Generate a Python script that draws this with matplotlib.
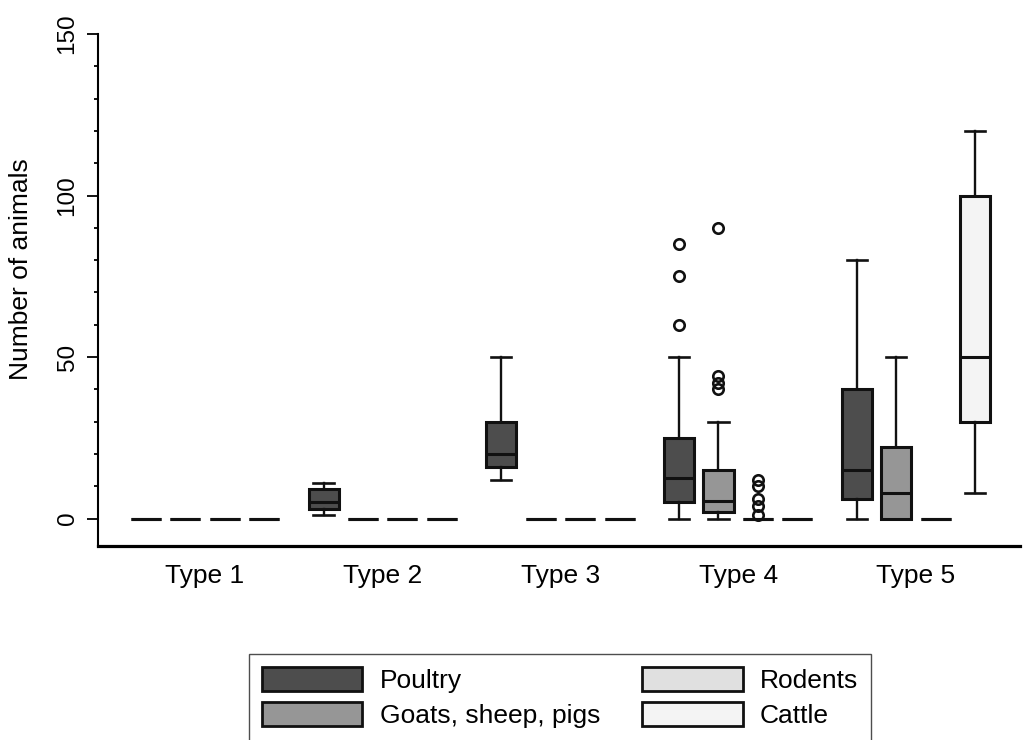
import numpy as np
import matplotlib.pyplot as plt
from matplotlib.patches import Patch
from matplotlib.ticker import MultipleLocator

plt.rcParams['font.family'] = ['Liberation Sans', 'DejaVu Sans']

types = ["Type 1", "Type 2", "Type 3", "Type 4", "Type 5"]
species = ["Poultry", "Goats, sheep, pigs", "Rodents", "Cattle"]
colors = ["#4d4d4d", "#969696", "#e0e0e0", "#f4f4f4"]

# box stats, one value per type: low whisker, q1, median, q3, high whisker
poultry_lo  = [0, 1, 12, 0, 0]
poultry_q1  = [0, 3, 16, 5, 6]
poultry_med = [0, 5, 20, 12.5, 15]
poultry_q3  = [0, 9, 30, 25, 40]
poultry_hi  = [0, 11, 50, 50, 80]
poultry_out = [[], [], [], [60, 75, 85], []]

goats_lo  = [0, 0, 0, 0, 0]
goats_q1  = [0, 0, 0, 2, 0]
goats_med = [0, 0, 0, 5.5, 8]
goats_q3  = [0, 0, 0, 15, 22]
goats_hi  = [0, 0, 0, 30, 50]
goats_out = [[], [], [], [40, 42, 44, 90], []]

rodents_lo  = [0, 0, 0, 0, 0]
rodents_q1  = [0, 0, 0, 0, 0]
rodents_med = [0, 0, 0, 0, 0]
rodents_q3  = [0, 0, 0, 0, 0]
rodents_hi  = [0, 0, 0, 0, 0]
rodents_out = [[], [], [], [1, 4, 6, 10, 12], []]

cattle_lo  = [0, 0, 0, 0, 8]
cattle_q1  = [0, 0, 0, 0, 30]
cattle_med = [0, 0, 0, 0, 50]
cattle_q3  = [0, 0, 0, 0, 100]
cattle_hi  = [0, 0, 0, 0, 120]
cattle_out = [[], [], [], [], []]

series = [
    (poultry_lo, poultry_q1, poultry_med, poultry_q3, poultry_hi, poultry_out),
    (goats_lo, goats_q1, goats_med, goats_q3, goats_hi, goats_out),
    (rodents_lo, rodents_q1, rodents_med, rodents_q3, rodents_hi, rodents_out),
    (cattle_lo, cattle_q1, cattle_med, cattle_q3, cattle_hi, cattle_out),
]

fig = plt.figure(figsize=(10.29, 7.4), dpi=100)
ax = fig.add_axes([0.0952, 0.2622, 0.896, 0.6918])

ec = "#111111"
step = 0.222
bw = 0.169
group_x = np.arange(1, len(types) + 1)

for j, (lo, q1, med, q3, hi, out) in enumerate(series):
    stats = []
    for i in range(len(types)):
        stats.append(dict(whislo=lo[i], q1=q1[i], med=med[i], q3=q3[i],
                          whishi=hi[i], fliers=out[i]))
    pos = group_x + (j - 1.5) * step
    ax.bxp(stats, positions=pos, widths=bw, capwidths=0.113,
           patch_artist=True, showfliers=True,
           boxprops=dict(facecolor=colors[j], edgecolor=ec, linewidth=2.2),
           medianprops=dict(color=ec, linewidth=2.2),
           whiskerprops=dict(color=ec, linewidth=1.7),
           capprops=dict(color=ec, linewidth=1.9),
           flierprops=dict(marker='o', markerfacecolor='none',
                           markeredgecolor=ec, markersize=7.5, markeredgewidth=1.9))

ax.set_xlim(0.398, 5.585)
ax.set_ylim(-8.5, 150)
ax.set_xticks(group_x)
ax.set_xticklabels(types, fontsize=19)
ax.tick_params(axis='x', length=0, pad=13)
ax.yaxis.set_major_locator(MultipleLocator(50))
ax.yaxis.set_minor_locator(MultipleLocator(10))
ax.tick_params(axis='y', which='major', length=8, width=1.3, labelsize=17.5, pad=6)
ax.tick_params(axis='y', which='minor', length=3, width=1.3)
plt.setp(ax.get_yticklabels(), rotation=90, va='center')
ax.set_ylabel("Number of animals", fontsize=19, labelpad=14)
ax.yaxis.set_label_coords(-0.07, 0.54)

for s in ['top', 'right']:
    ax.spines[s].set_visible(False)
ax.spines['left'].set_linewidth(1.5)
ax.spines['bottom'].set_linewidth(2.3)

handles = [Patch(facecolor=c, edgecolor=ec, linewidth=2.0) for c in colors]
leg = fig.legend(handles, species,
                 loc='upper left', bbox_to_anchor=(0.242, 0.1162), ncol=2,
                 fontsize=19, frameon=True, fancybox=False, edgecolor='#222222',
                 handlelength=3.8, handleheight=1.0, handletextpad=0.65,
                 columnspacing=1.6, labelspacing=0.35, borderpad=0.5,
                 borderaxespad=0)
leg.get_frame().set_linewidth(1.0)

fig.savefig("out.png", dpi=100)
